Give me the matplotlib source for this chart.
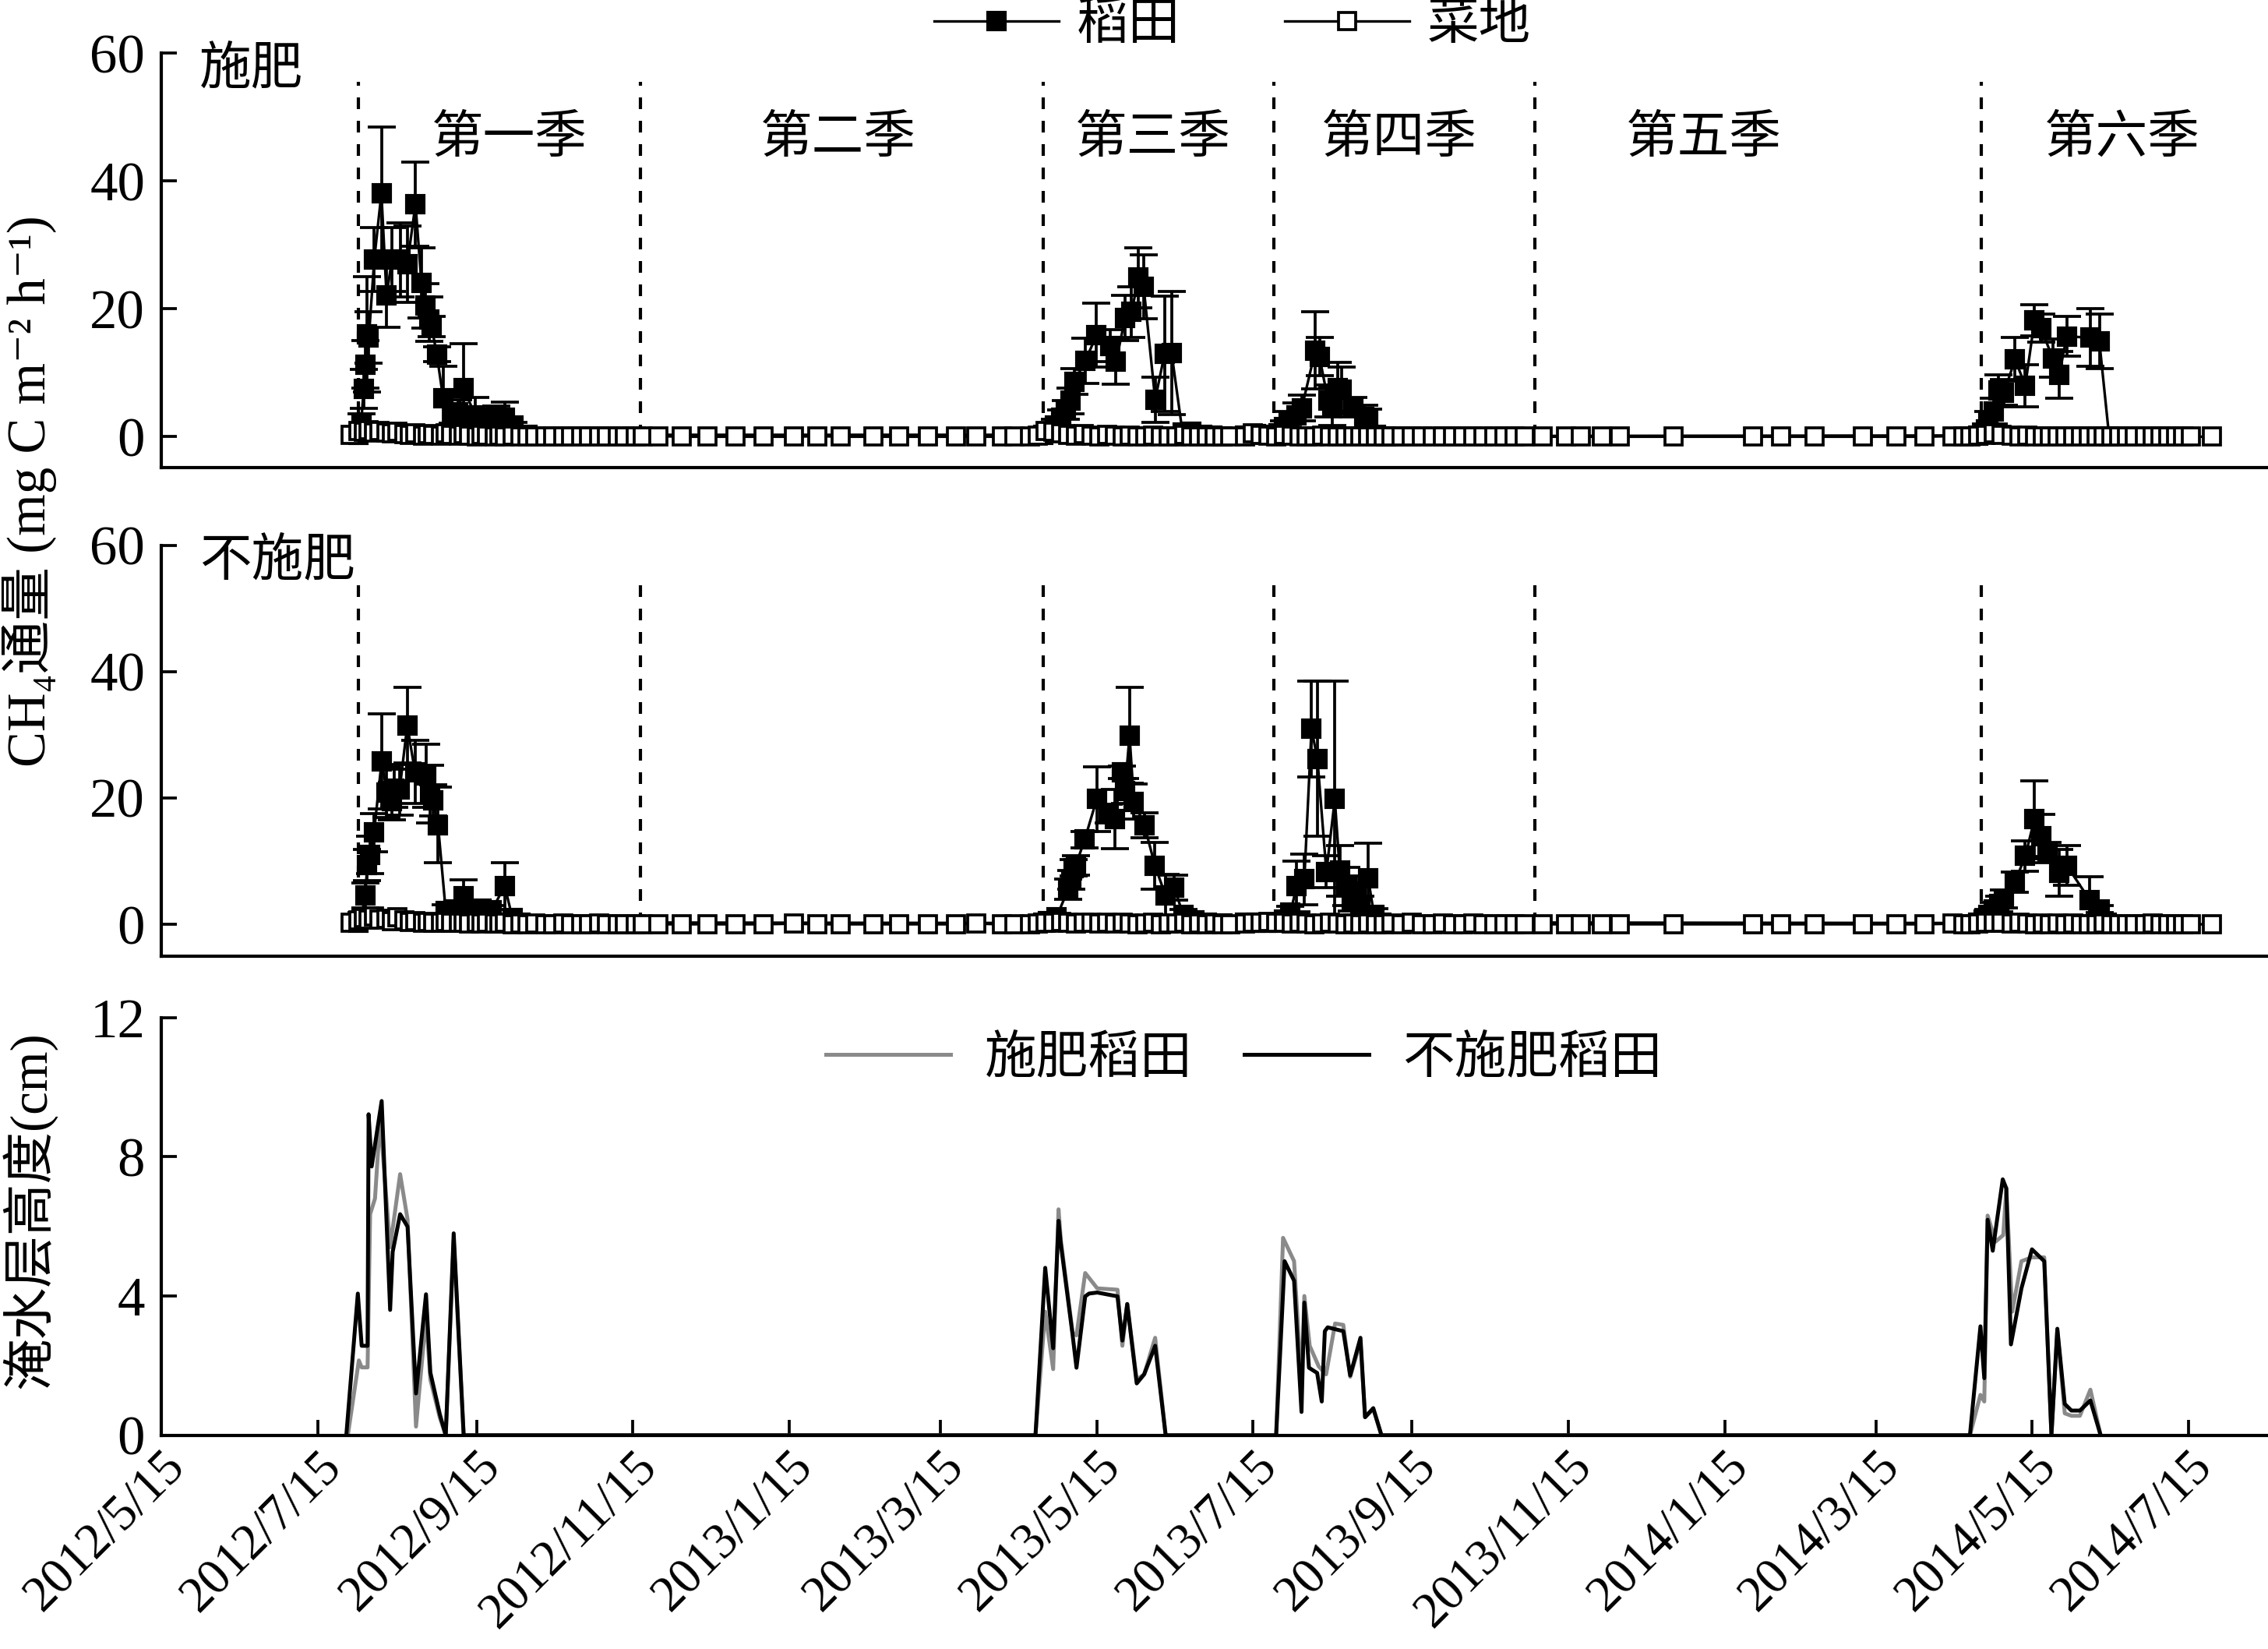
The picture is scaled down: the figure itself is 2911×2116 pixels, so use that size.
import numpy as np
import pandas as pd
import matplotlib
matplotlib.use("Agg")
import matplotlib.pyplot as plt
from matplotlib.lines import Line2D

plt.rcParams.update({
    "font.family": ["Liberation Serif", "Noto Sans CJK SC", "DejaVu Serif"],
    "font.size": 15,
    "axes.linewidth": 1.0,
    "axes.unicode_minus": False,
})

START = pd.Timestamp("2012-05-15")

# ---- data (day offsets from 2012/5/15) ----
season_start_day = [77, 187, 344, 434, 536, 710]
season_label_day = [136, 264, 387, 483, 602, 765]
season_labels = ["第一季", "第二季", "第三季", "第四季", "第五季", "第六季"]

tick_labels = ["2012/5/15", "2012/7/15", "2012/9/15", "2012/11/15", "2013/1/15",
               "2013/3/15", "2013/5/15", "2013/7/15", "2013/9/15", "2013/11/15",
               "2014/1/15", "2014/3/15", "2014/5/15", "2014/7/15"]

# rice paddy, fertilised
fert_rice_day = [77, 78, 79, 79.7, 80.4, 81, 83.1, 85.9, 87.9, 90, 93.3, 96, 99.2, 101.5, 103,
                 104.5, 105.5, 107.5, 110, 113.7, 115.7, 118, 122.5, 126.6, 130.7, 134, 137.5, 143,
                 344, 346, 348.7, 351, 352.8, 354.8, 356.2, 360.6, 364.9, 370.4, 372.5, 376.1,
                 378.6, 381.3, 383.3, 387.8, 391.5, 394.2, 398.5, 402, 406, 410, 414,
                 423, 427, 431, 436, 438, 440, 443, 445, 450.3, 451.9, 455.3, 457, 459, 460.7,
                 465, 469.5, 471, 474, 478,
                 709, 711, 712, 713, 715, 716.9, 719, 723.3, 727.3, 730.9, 733.4, 738, 740.5,
                 743.5, 752.7, 756.2, 760]
fert_rice_flux = [0.3, 2.1, 7.5, 11.3, 16.0, 15.5, 27.7, 38.1, 22.1, 27.7, 27.7, 27.0, 36.4, 24.1, 20.5,
                  18.4, 17.2, 12.9, 6.0, 3.4, 3.8, 7.6, 3.3, 3.0, 3.3, 3.0, 1.7, 0.3,
                  0.3, 0.8, 1.7, 3.0, 4.2, 5.6, 8.6, 11.9, 15.9, 14.2, 11.7, 18.6,
                  19.5, 24.9, 23.5, 5.8, 13.0, 13.1, 0.6, 0.8, 0.3, 0.2, 0.1,
                  0.2, 0.4, 0.3, 0.5, 1.5, 2.5, 3.3, 4.5, 13.5, 12.5, 5.6, 4.8, 7.6, 7.4,
                  4.6, 3.1, 2.8, 0.3, 0.1,
                  0.2, 0.5, 1.2, 2.5, 4.0, 7.2, 6.9, 12.1, 8.0, 18.2, 17.0, 12.3, 9.7,
                  15.7, 15.5, 14.9, 0.1]
fert_rice_err = [0.3, 1.5, 3.0, 3.7, 9.0, 4.0, 5.0, 10.4, 5.0, 5.0, 5.8, 6.0, 6.6, 5.5, 3.5,
                 3.5, 1.6, 1.2, 5.0, 1.3, 2.0, 6.9, 2.9, 1.0, 1.5, 2.4, 0.5, 0.2,
                 0.3, 0.5, 1.0, 1.2, 1.5, 2.0, 2.0, 3.5, 5.0, 2.5, 3.5, 3.5,
                 4.0, 4.7, 5.0, 3.5, 9.0, 9.6, 0.5, 0.6, 0.3, 0.2, 0.1,
                 0.2, 0.3, 0.2, 0.5, 1.0, 1.5, 2.0, 2.0, 6.0, 3.0, 2.5, 3.0, 4.0, 3.5,
                 1.5, 1.8, 1.5, 0.3, 0.1,
                 0.2, 0.5, 0.8, 1.5, 2.0, 2.5, 2.0, 3.4, 3.3, 2.4, 2.2, 3.0, 3.7,
                 3.1, 4.5, 4.3, 0.1]

# rice paddy, unfertilised
nofert_rice_day = [77, 78, 79.6, 80.4, 81.5, 83, 86, 88, 90, 91, 93, 96, 99, 103.5, 105, 106, 108,
                   111, 114, 118, 121, 125, 129, 134, 137, 140,
                   344, 346, 349.3, 353.9, 355, 356, 356.8, 360.3, 365, 369.6, 372, 374.9, 376,
                   377.8, 379.5, 383.6, 387.7, 391.8, 395.3, 398.7, 403, 408, 414,
                   423, 427, 431, 436, 438, 440.6, 443, 446, 448.8, 451.1, 454.6, 457.9, 459.8,
                   462.5, 464.5, 466.2, 468, 470.9, 473.2, 476,
                   709, 711, 713, 715, 717, 719, 723.3, 727.3, 730.9, 733.4, 735.9, 740.5, 743.5,
                   752.5, 756.2, 759]
nofert_rice_flux = [0.3, 1.0, 4.6, 9.4, 11.0, 14.5, 25.8, 20.9, 19.5, 21.5, 21.3, 31.5, 24.1, 23.5,
                    20.6, 19.6, 15.7, 2.1, 2.4, 4.5, 2.2, 2.5, 2.2, 6.1, 1.0, 0.3,
                    0.2, 0.5, 1.1, 5.6, 7.0, 8.9, 9.3, 13.4, 19.8, 17.5, 16.7, 24.1, 21.1,
                    29.9, 19.4, 15.7, 9.3, 4.6, 5.8, 1.5, 0.6, 0.3, 0.1,
                    0.2, 0.3, 0.2, 0.3, 0.8, 1.9, 6.0, 7.1, 30.9, 26.2, 8.3, 19.8, 8.5,
                    6.0, 3.6, 5.2, 3.0, 7.3, 1.5, 0.3,
                    0.2, 0.8, 1.5, 2.4, 3.2, 4.0, 6.7, 10.8, 16.7, 13.9, 11.4, 8.1, 9.3,
                    3.8, 2.4, 0.2]
nofert_rice_err = [0.3, 0.8, 2.0, 2.5, 3.0, 3.0, 7.5, 4.0, 3.0, 3.0, 4.0, 6.0, 5.0, 5.0,
                   4.6, 2.5, 6.0, 1.0, 1.0, 2.5, 0.8, 1.0, 0.8, 3.7, 0.5, 0.3,
                   0.2, 0.3, 0.5, 1.6, 1.5, 1.3, 1.5, 1.3, 5.1, 1.5, 4.7, 1.0, 2.0,
                   7.6, 2.8, 2.0, 3.7, 3.3, 2.0, 0.8, 0.4, 0.2, 0.1,
                   0.2, 0.2, 0.2, 0.3, 0.5, 1.0, 4.0, 4.0, 7.6, 12.3, 2.5, 18.7, 4.0,
                   3.0, 1.5, 2.5, 1.5, 5.5, 1.0, 0.2,
                   0.2, 0.5, 0.8, 1.0, 1.2, 1.4, 1.6, 2.4, 6.0, 3.5, 1.6, 3.7, 3.1,
                   3.7, 0.6, 0.2]

# vegetable field sampling days
veg_day = [74, 77, 79, 81, 83, 85, 88, 90, 92, 95, 97, 99, 102, 104, 106, 109, 111, 113, 116, 118,
           120, 123, 125, 127, 130, 132, 134, 137, 140, 143, 146, 150, 153, 157, 160, 164, 167, 171,
           174, 178, 181, 185,
           188, 194, 203, 213, 224, 235, 247, 256, 265, 278, 288, 299, 310, 318, 328, 333, 339,
           342, 345, 348, 351, 354, 357, 360, 363, 366, 369, 372, 375, 378, 381, 384, 387, 390,
           393, 396, 399, 402, 405, 408, 411, 414, 417,
           423, 426, 429, 432, 435, 438, 441, 444, 447, 450, 453, 456, 459, 462, 465, 468, 471,
           474, 477, 480, 484, 488, 492, 496, 500, 504, 508, 512, 516, 520, 524, 528, 532,
           539, 548, 554, 562, 569, 590, 621, 632, 645, 664, 677, 688, 699, 703, 706,
           709, 712, 715, 718, 722, 725, 728, 731, 734, 737, 740, 743, 746, 749, 752, 755, 758,
           761, 764, 767, 770, 774, 777, 780, 783, 786, 789, 792, 800]
fert_veg_flux = [0.3, 0.9, 0.8, 1.0, 0.7, 0.9, 0.6, 0.5, 0.8, 0.4, 0.3, 0.5, 0.2, 0.4, 0.3, 0.2, 0.5,
                 0.3, 0.2, 0.4, 0.2, 0.1, 0.3, 0.2, 0.1, 0.2, 0.1, 0.2, 0.1, 0.1, 0.0, 0.1, 0.0, 0.1,
                 0.0, 0.0, 0.1, 0.0, 0.0, 0.1, 0.0, 0.0,
                 0.0, 0.1, 0.0, 0.0, 0.0, 0.0, 0.0, 0.1, 0.0, 0.0, 0.0, 0.0, 0.0, 0.0, 0.0, 0.1, 0.0,
                 0.2, 0.9, 0.8, 0.5, 0.3, 0.2, 0.4, 0.2, 0.1, 0.3, 0.2, 0.1, 0.2, 0.0, 0.1, 0.2, 0.1,
                 0.0, 0.1, 0.3, 0.1, 0.0, 0.1, 0.0, 0.1, 0.0,
                 0.1, 0.5, 0.3, 0.2, 0.1, 0.3, 0.2, 0.1, 0.0, 0.1, 0.2, 0.0, 0.1, 0.0, 0.1, 0.0, 0.0,
                 0.1, 0.0, 0.0, 0.1, 0.0, 0.0, 0.0, 0.1, 0.0, 0.0, 0.0, 0.0, 0.1, 0.0, 0.0, 0.0,
                 0.0, 0.0, 0.0, 0.0, 0.0, 0.0, 0.0, 0.0, 0.0, 0.0, 0.0, 0.0, 0.1, 0.0, 0.1,
                 0.2, 0.3, 0.5, 0.3, 0.2, 0.1, 0.2, 0.1, 0.0, 0.1, 0.0, 0.1, 0.0, 0.0, 0.1, 0.0, 0.0,
                 0.0, 0.0, 0.1, 0.0, 0.0, 0.0, 0.0, 0.0, 0.0, 0.0, 0.0, 0.0]
nofert_veg_flux = [0.2, 0.6, 1.0, 0.8, 1.2, 0.7, 0.9, 0.5, 1.1, 0.6, 0.4, 0.5, 0.3, 0.4, 0.2, 0.3,
                   0.4, 0.2, 0.3, 0.2, 0.1, 0.2, 0.1, 0.2, 0.1, 0.1, 0.2, 0.0, 0.1, 0.0, 0.1, 0.0,
                   0.0, 0.1, 0.0, 0.0, 0.0, 0.1, 0.0, 0.0, 0.0, 0.0,
                   0.0, 0.0, 0.0, 0.0, 0.0, 0.0, 0.1, 0.0, 0.0, 0.0, 0.0, 0.0, 0.0, 0.1, 0.0, 0.0,
                   0.0,
                   0.1, 0.3, 0.2, 0.4, 0.2, 0.1, 0.3, 0.2, 0.1, 0.2, 0.1, 0.2, 0.1, 0.0, 0.1, 0.2,
                   0.0, 0.1, 0.1, 0.2, 0.0, 0.1, 0.0, 0.1, 0.0, 0.0,
                   0.1, 0.3, 0.2, 0.4, 0.3, 0.2, 0.1, 0.2, 0.1, 0.0, 0.1, 0.2, 0.1, 0.0, 0.1, 0.0,
                   0.1, 0.0, 0.0, 0.1, 0.0, 0.2, 0.0, 0.0, 0.1, 0.0, 0.0, 0.1, 0.0, 0.0, 0.0, 0.0,
                   0.0,
                   0.0, 0.0, 0.0, 0.0, 0.0, 0.0, 0.0, 0.0, 0.0, 0.0, 0.0, 0.0, 0.1, 0.0, 0.0,
                   0.1, 0.2, 0.3, 0.2, 0.1, 0.2, 0.1, 0.0, 0.1, 0.0, 0.1, 0.0, 0.1, 0.0, 0.0, 0.0,
                   0.1, 0.0, 0.0, 0.0, 0.0, 0.0, 0.1, 0.0, 0.0, 0.0, 0.0, 0.0, 0.0]

# flood water depth (cm)
fert_water_day = [72.8, 77.1, 78.2, 80.5, 81.5, 83.4, 85.4, 89.3, 93.2, 96.1, 99.4, 103.3, 105,
                  108.7, 111, 114.1, 118,
                  341.1, 344.9, 348.0, 350.1, 351, 355.6, 357.1, 360.5, 365.2, 373.1, 375, 376.9,
                  380.6, 383.5, 387.8, 391.9,
                  435, 437.7, 442, 444.9, 446, 448.1, 451.6, 454.5, 458, 461.2, 463.9, 467.9,
                  469.7, 472.9, 476.1,
                  705.7, 709.8, 711.3, 712.6, 715.7, 718.7, 719.9, 722.2, 725.8, 729.9, 734.7,
                  737.5, 739.8, 742.7, 745.3, 748.6, 752.7, 756.7]
fert_water_depth = [0, 2.15, 1.95, 1.95, 6.35, 6.8, 9.1, 5.4, 7.5, 6.2, 0.25, 3.4, 1.6,
                    0.5, 0, 5.6, 0,
                    0, 3.55, 1.9, 6.49, 5.6, 2.95, 2.87, 4.66, 4.22, 4.18, 2.57, 3.77,
                    1.6, 1.75, 2.8, 0,
                    0, 5.67, 5.0, 1.46, 4.0, 2.57, 1.98, 1.75, 3.21, 3.17, 1.68, 2.69,
                    0.52, 0.75, 0,
                    0, 1.16, 0.97, 6.31, 5.56, 5.75, 7.09, 3.55, 5.0, 5.11, 5.11,
                    0, 3.02, 0.63, 0.56, 0.56, 1.31, 0]
nofert_water_day = [72.2, 76.7, 78.2, 80.5, 80.9, 82.1, 86, 89.3, 90.3, 93.2, 96.1, 99.4, 103.3,
                    105, 108.7, 111, 114.1, 118,
                    341.1, 344.9, 348.0, 350.1, 351, 355.6, 357.1, 360.5, 362, 365.2, 373.1, 375,
                    376.9, 380.6, 383.5, 387.8, 391.9,
                    435, 438.3, 442, 444.9, 446, 447.8, 451, 452.8, 454, 455.1, 461.2, 463.9,
                    467.9, 469.7, 472.9, 476.1,
                    705.7, 709.8, 711.3, 712.6, 714.6, 718.5, 719.9, 721.7, 725.8, 729.9, 734.7,
                    737.5, 739.8, 742.7, 745.3, 748.6, 752.7, 756.7]
nofert_water_depth = [0, 4.07, 2.57, 2.57, 9.22, 7.72, 9.6, 3.6, 5.27, 6.35, 5.99, 1.2, 4.05,
                      1.8, 0.6, 0, 5.8, 0,
                      0, 4.81, 2.5, 6.16, 5.49, 2.87, 1.94, 3.99, 4.07, 4.1, 3.99, 2.72,
                      3.77, 1.49, 1.75, 2.57, 0,
                      0, 5.0, 4.44, 0.67, 3.81, 1.94, 1.79, 0.97, 2.99, 3.1, 2.99, 1.72,
                      2.8, 0.52, 0.78, 0,
                      0, 3.13, 1.64, 6.19, 5.3, 7.35, 7.09, 2.61, 4.22, 5.34, 5.0,
                      0, 3.06, 0.9, 0.71, 0.71, 1.0, 0]


def to_dates(days):
    return START + pd.to_timedelta(np.asarray(days, dtype=float), unit="D")


tick_dates = pd.to_datetime(tick_labels, format="%Y/%m/%d")
x_left = START
x_right = pd.Timestamp("2014-08-15")
MS = 5.2

fig = plt.figure(figsize=(2911 / 300, 2116 / 300), dpi=300)
ax_top = fig.add_axes([0.0711, 0.7164, 0.9289, 0.2513])
ax_mid = fig.add_axes([0.0711, 0.4201, 0.9289, 0.2493])
ax_bot = fig.add_axes([0.0711, 0.1296, 0.9289, 0.2534])

for ax in (ax_top, ax_mid, ax_bot):
    ax.spines["top"].set_visible(False)
    ax.spines["right"].set_visible(False)
    ax.set_xlim(x_left, x_right)
    ax.tick_params(axis="y", direction="in", length=4.7, width=0.9, pad=5, labelsize=17)

flux_panels = [
    (ax_top, fert_rice_day, fert_rice_flux, fert_rice_err, fert_veg_flux, "施肥", -4.84),
    (ax_mid, nofert_rice_day, nofert_rice_flux, nofert_rice_err, nofert_veg_flux, "不施肥", -5.06),
]
for ax, rday, rflux, rerr, vflux, tag, ylow in flux_panels:
    ax.errorbar(to_dates(rday), rflux, yerr=rerr, fmt="-s", color="black", ms=MS,
                mfc="black", mec="black", lw=0.8, elinewidth=0.9, capsize=4.3,
                capthick=0.9, zorder=3)
    ax.plot(to_dates(veg_day), vflux, "-s", color="black", mfc="white", mec="black",
            ms=MS, mew=0.9, lw=0.8, zorder=4)
    ax.vlines(to_dates(season_start_day), 0, 55.5, colors="black", lw=1.0,
              linestyles=[(0, (3.6, 3.6))], zorder=1)
    ax.set_ylim(ylow, 60)
    ax.set_yticks([0, 20, 40, 60])
    ax.tick_params(axis="x", length=0, labelbottom=False)
    ax.text(0.018, 0.958, tag, transform=ax.transAxes, ha="left", va="center", fontsize=16)

for d, lab in zip(to_dates(season_label_day), season_labels):
    ax_top.text(d, 46.5, lab, ha="center", va="center", fontsize=16)

ax_bot.plot(to_dates(fert_water_day), fert_water_depth, color="#8a8a8a", lw=1.2,
            label="施肥稻田", zorder=2)
ax_bot.plot(to_dates(nofert_water_day), nofert_water_depth, color="black", lw=1.2,
            label="不施肥稻田", zorder=3)
ax_bot.set_ylim(0, 12)
ax_bot.set_yticks([0, 4, 8, 12])
ax_bot.set_xticks(tick_dates)
ax_bot.set_xticklabels(tick_labels, rotation=45, ha="right", va="top",
                       rotation_mode="anchor", fontsize=15.5)
ax_bot.tick_params(axis="x", direction="in", length=4.7, width=0.9, pad=2.5)
ax_bot.legend(loc="center", bbox_to_anchor=(0.514, 0.9), ncol=2, frameon=False,
              fontsize=16, handlelength=2.4, handletextpad=0.65, columnspacing=1.0)

handles = [
    Line2D([], [], color="black", marker="s", ms=MS, mfc="black", lw=0.8),
    Line2D([], [], color="black", marker="s", ms=MS, mfc="white", mew=0.9, lw=0.8),
]
fig.legend(handles, ["稻田", "菜地"], loc="center", bbox_to_anchor=(0.5435, 0.984), ncol=2,
           frameon=False, fontsize=16, numpoints=1, handlelength=2.4,
           handletextpad=0.35, columnspacing=2.0)

fig.text(0.013, 0.702, "CH₄通量 (mg C m⁻² h⁻¹)", rotation=90, ha="center", va="center",
         fontsize=16.5)
fig.text(0.013, 0.266, "淹水层高度(cm)", rotation=90, ha="center", va="center", fontsize=16)

fig.savefig("out.png", dpi=300)
